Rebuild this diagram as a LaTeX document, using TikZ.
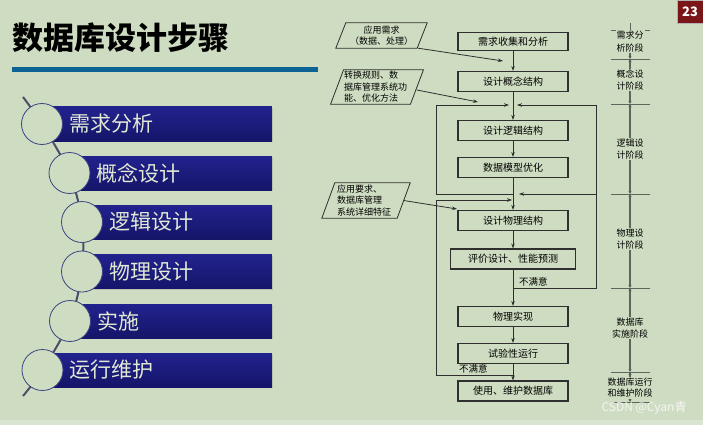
\documentclass[tikz,border=0pt]{standalone}
\usepackage{fontspec}
\setmainfont{Noto Sans CJK SC}
\usetikzlibrary{positioning, arrows.meta, shadows}

\definecolor{slidebg}{HTML}{CEDDC1}
\definecolor{rulecol}{HTML}{0B6394}
\definecolor{bartop}{HTML}{22228E}
\definecolor{barbot}{HTML}{15156A}
\definecolor{bartext}{HTML}{E2EAD4}
\definecolor{ringcol}{HTML}{3E4382}
\definecolor{spinecol}{HTML}{4B4F66}
\definecolor{inkgray}{HTML}{2F2F2F}
\definecolor{stagecol}{HTML}{5E665C}
\definecolor{pagered}{HTML}{7A1518}

\tikzset{
  listbar/.style={
    top color=bartop, bottom color=barbot, anchor=east,
    minimum height=34pt, inner sep=0pt,
    drop shadow={shadow xshift=1.2pt, shadow yshift=-1.2pt, opacity=0.3}
  },
  listring/.style={
    circle, draw=ringcol, fill=slidebg, line width=0.8pt,
    minimum size=41pt, inner sep=0pt
  },
  listtext/.style={text=bartext, inner sep=0pt, font=\fontsize{21}{24}\selectfont},
  spine/.style={draw=spinecol, line width=2pt},
  stepbox/.style={
    draw=inkgray, line width=1.1pt, minimum width=110pt, minimum height=20pt,
    inner sep=0pt, font=\fontsize{10}{12}\selectfont
  },
  inputbox/.style={inner ysep=0pt, font=\fontsize{9}{11.5}\selectfont},
  inputedge/.style={draw=inkgray, line width=0.8pt},
  flowarrow/.style={-{Stealth[length=5pt, width=3.5pt]}, line width=0.8pt, draw=inkgray},
  flownote/.style={anchor=west, inner sep=0pt, font=\fontsize{9.5}{11}\selectfont},
  stagetick/.style={draw=stagecol, line width=0.8pt},
  stagedim/.style={draw=stagecol, line width=1.3pt,
    {Stealth[length=3pt, width=3pt, fill=black]}-{Stealth[length=3pt, width=3pt, fill=black]}},
  stagefirst/.style={draw=stagecol, line width=1.3pt, -{Stealth[length=3pt, width=3pt, fill=black]}},
  stagelabel/.style={fill=slidebg, inner sep=1pt, align=center, font=\fontsize{9}{12.5}\selectfont},
  pagebox/.style={fill=pagered, draw=gray!60, minimum width=26pt, minimum height=23pt,
    inner sep=0pt, text=white, font=\fontsize{13}{15}\selectfont\bfseries}
}

\begin{document}
\begin{tikzpicture}[x=1pt, y=-1pt, node distance=6pt]
  \useasboundingbox (0,0) rectangle (703,425);
  \fill[slidebg] (0,0) rectangle (703,425);
  \fill[slidebg!75!white] (0,420) rectangle (703,425);

  % title
  \node[anchor=west, inner sep=0pt, font=\fontsize{31}{34}\selectfont\bfseries] (title) at (12,38) {数据库设计步骤};
  \fill[rulecol] (12,67) rectangle (318,72);
  \node[pagebox] (pagenum) at (690,11.5) {23};

  % left list
  \node[listbar, minimum width=230pt] (bar1) at (272,124) {};
  \node[listbar, minimum width=202pt] (bar2) at (272,173) {};
  \node[listbar, minimum width=190pt] (bar3) at (272,222) {};
  \node[listbar, minimum width=190pt] (bar4) at (272,271.5) {};
  \node[listbar, minimum width=202pt] (bar5) at (272,321) {};
  \node[listbar, minimum width=230pt] (bar6) at (272,370) {};

  \coordinate (spinetop) at (23,97);
  \coordinate (spinebot) at (23,396);
  \coordinate (r1) at (42,124);
  \coordinate (r2) at (69.5,173);
  \coordinate (r3) at (82,222);
  \coordinate (r4) at (82,271.5);
  \coordinate (r5) at (70,321);
  \coordinate (r6) at (42.5,370);
  \draw[spine] plot[smooth] coordinates {(spinetop) (r1) (r2) (r3) (r4) (r5) (r6) (spinebot)};

  \node[listring] (ring1) at (r1) {};
  \node[listring] (ring2) at (r2) {};
  \node[listring] (ring3) at (r3) {};
  \node[listring] (ring4) at (r4) {};
  \node[listring] (ring5) at (r5) {};
  \node[listring] (ring6) at (r6) {};

  \node[listtext, right=of ring1] (item1) {需求分析};
  \node[listtext, right=of ring2] (item2) {概念设计};
  \node[listtext, right=of ring3] (item3) {逻辑设计};
  \node[listtext, right=of ring4] (item4) {物理设计};
  \node[listtext, right=of ring5] (item5) {实施};
  \node[listtext, right=of ring6] (item6) {运行维护};

  % flow chart
  \node[stepbox, minimum height=18pt] (need) at (513,41.5) {需求收集和分析};
  \node[stepbox] (concept) at (513,81.5) {设计概念结构};
  \node[stepbox] (logic) at (513,130.5) {设计逻辑结构};
  \node[stepbox] (optimize) at (513,167.5) {数据模型优化};
  \node[stepbox] (physical) at (513,220.5) {设计物理结构};
  \node[stepbox, minimum width=125pt] (evaluate) at (513,259) {评价设计、性能预测};
  \node[stepbox] (implement) at (513,316.5) {物理实现};
  \node[stepbox] (trial) at (513,353.5) {试验性运行};
  \node[stepbox] (maintain) at (513,391) {使用、维护数据库};

  \node[inputbox, minimum width=81pt, minimum height=25pt, align=center] (appneed) at (381.5,35.5) {应用需求\\（数据、处理）};
  \node[inputbox, inner xsep=6.75pt, text width=66pt, minimum height=34pt, align=left] (rules) at (377,87) {转换规则、数\\据库管理系统功\\能、优化方法};
  \node[inputbox, inner xsep=8.5pt, text width=58pt, minimum height=35pt, align=left] (sysreq) at (366,200.5) {应用要求、\\数据库管理\\系统详细特征};
  \draw[inputedge] ([xshift=5]appneed.north west) -- ([xshift=5]appneed.north east) -- ([xshift=-5]appneed.south east) -- ([xshift=-5]appneed.south west) -- cycle;
  \draw[inputedge] ([xshift=6.5]rules.north west) -- ([xshift=6.5]rules.north east) -- ([xshift=-6.5]rules.south east) -- ([xshift=-6.5]rules.south west) -- cycle;
  \draw[inputedge] ([xshift=6.5]sysreq.north west) -- ([xshift=6.5]sysreq.north east) -- ([xshift=-6.5]sysreq.south east) -- ([xshift=-6.5]sysreq.south west) -- cycle;

  \coordinate (in1) at (503,61);
  \coordinate (in2) at (478,102);
  \coordinate (in3) at (457,209);
  \draw[flowarrow] ([xshift=-4]appneed.south east) -- (in1);
  \draw[flowarrow] ([yshift=-3]rules.east) -- (in2);
  \draw[flowarrow] (sysreq.east) -- (in3);

  \draw[flowarrow] (need) -- (concept);
  \draw[flowarrow] (concept) -- (logic);
  \draw[flowarrow] (logic) -- (optimize);
  \draw[flowarrow] (optimize) -- (physical);
  \draw[flowarrow] (physical) -- (evaluate);
  \draw[flowarrow] (evaluate) -- (implement);
  \draw[flowarrow] (implement) -- (trial);
  \draw[flowarrow] (trial) -- (maintain);

  % feedback loops
  \coordinate (loopTL) at (436,105);
  \coordinate (loopTR) at (596,105);
  \coordinate (loopBL) at (436,194);
  \coordinate (loopBR) at (596,194);
  \coordinate (evalR) at (596,288);
  \coordinate (trialL) at (436,375);
  \coordinate (backL) at (436,200);
  \draw[flowarrow] (evaluate.south |- evalR) -- (evalR) -- (loopTR) -- ([xshift=4]concept.south |- loopTR);
  \draw[flowarrow] (loopBR) -- ([xshift=6]optimize.south |- loopBR);
  \draw[flowarrow] (optimize.south |- loopBR) -- (loopBL) -- (loopTL) -- ([xshift=-4]concept.south |- loopTL);
  \draw[flowarrow] (trial.south |- trialL) -- (trialL) -- (backL) -- ([xshift=-1]optimize.south |- backL);
  \node[flownote] (nosat1) at (519,282) {不满意};
  \node[flownote] (nosat2) at (459,369) {不满意};

  % stage column
  \draw[stagetick] (630,23) -- (630,30);
  \foreach \ty in {30,59,104,194,288,372,402}
    \draw[stagetick] (611,\ty) -- (650,\ty);
  \draw[stagefirst] (630,30) -- (630,59);
  \foreach \ta/\tb in {59/104,104/194,194/288,288/372,372/402}
    \draw[stagedim] (630,\ta) -- (630,\tb);
  \node[stagelabel] (stage1) at (630,41.5) {需求分\\析阶段};
  \node[stagelabel] (stage2) at (630,80) {概念设\\计阶段};
  \node[stagelabel] (stage3) at (630,149) {逻辑设\\计阶段};
  \node[stagelabel] (stage4) at (630,239) {物理设\\计阶段};
  \node[stagelabel] (stage5) at (630,328) {数据库\\实施阶段};
  \node[stagelabel, font=\fontsize{9}{11}\selectfont] (stage6) at (630,388) {数据库运行\\和维护阶段};

  \node[text=white!92!gray, font=\fontsize{12}{14}\selectfont, inner sep=0pt] (mark) at (644,408) {CSDN @Cyan青};
\end{tikzpicture}
\end{document}
